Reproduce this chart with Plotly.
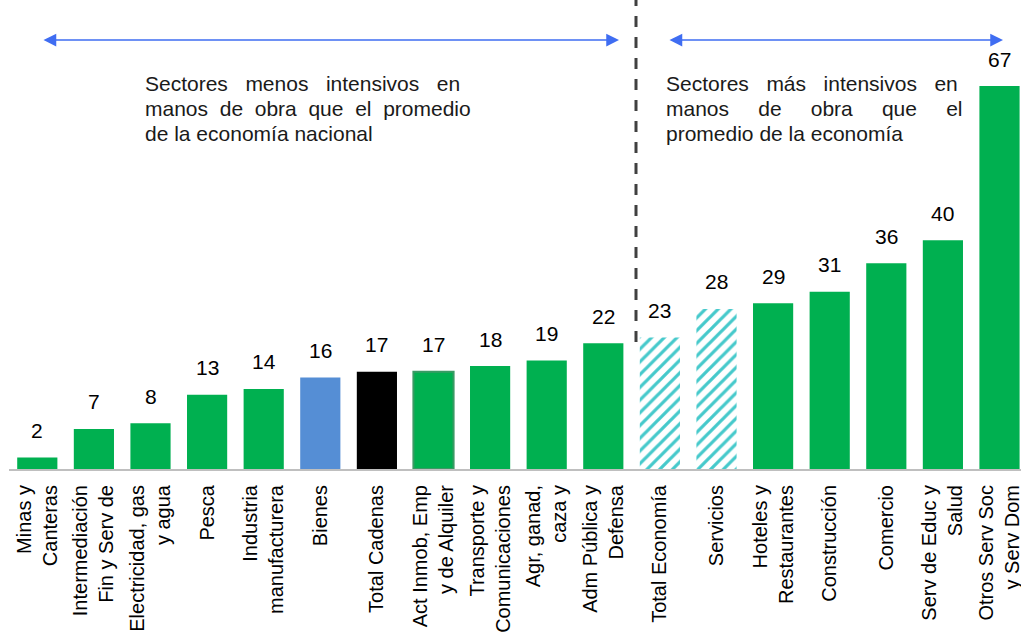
"""Labour intensity by sector: bar chart with annotated groups."""

import plotly.graph_objects as go

FONT = "Liberation Sans, Arial, sans-serif"
GREEN = "#00B050"
BLUE = "#558ED5"
TEAL = "#45C9CB"
ARROW = "#3F6DF2"

sectors = [
    "Minas y<br>Canteras",
    "Intermediación<br>Fin y Serv de",
    "Electricidad, gas<br>y agua",
    "Pesca",
    "Industria<br>manufacturera",
    "Bienes",
    "Total Cadenas",
    "Act Inmob, Emp<br>y de Alquiler",
    "Transporte y<br>Comunicaciones",
    "Agr, ganad,<br>caza y",
    "Adm Pública y<br>Defensa",
    "Total Economía",
    "Servicios",
    "Hoteles y<br>Restaurantes",
    "Construcción",
    "Comercio",
    "Serv de Educ y<br>Salud",
    "Otros Serv Soc<br>y Serv Dom",
]
values = [2, 7, 8, 13, 14, 16, 17, 17, 18, 19, 22, 23, 28, 29, 31, 36, 40, 67]
hatched = ["Total Economía", "Servicios"]

colors = [GREEN] * 5 + [BLUE, "#000000"] + [GREEN] * 11
border_w = [0] * 7 + [2] + [0] * 10

W, H = 1021, 643
L, B = 9, 174
PLOT_H = H - B
SLOT = 56.6
PX_PER_UNIT = 5.716


def px(x):
    return (x - L) / (W - L)


def py(y):
    return (PLOT_H - y) / PLOT_H


NB = "\u00a0"


def spaced(words, gaps):
    out = words[0]
    for w, g in zip(words[1:], gaps):
        out += NB * g + w
    return out


solid_y = [None if s in hatched else v for s, v in zip(sectors, values)]
hatch_y = [v if s in hatched else None for s, v in zip(sectors, values)]

fig = go.Figure()
fig.add_trace(
    go.Bar(
        x=sectors, y=solid_y, width=0.71,
        marker=dict(color=colors, line=dict(color="#3A9A64", width=border_w)),
        hoverinfo="x+y",
    )
)
fig.add_trace(
    go.Bar(
        x=sectors, y=hatch_y, width=0.71,
        marker=dict(
            color="white", line=dict(width=0),
            pattern=dict(
                shape="/", size=9, solidity=0.36, fgcolor=TEAL,
                bgcolor="white", fillmode="replace", fgopacity=1,
            ),
        ),
        hoverinfo="x+y",
    )
)

# value labels sit well above the bars
for s, v in zip(sectors, values):
    fig.add_annotation(
        x=s, y=v, text=str(v), showarrow=False,
        yanchor="middle", yshift=27,
        font=dict(family=FONT, size=21, color="#000000"),
    )

# double arrows over the two groups
for x0, x1 in [(42, 619), (668, 1003)]:
    fig.add_annotation(
        x=px(x1), y=py(40), ax=px(x0), ay=py(40),
        xref="x domain", yref="y domain", axref="x domain", ayref="y domain",
        text="", showarrow=True, arrowside="end+start",
        arrowhead=2, arrowsize=1.7, arrowwidth=1.5, arrowcolor=ARROW,
    )

# dashed separator
fig.add_shape(
    type="line", xref="paper", yref="paper",
    x0=px(636), x1=px(636), y0=py(342), y1=1,
    line=dict(color="#404040", width=3, dash="11px,10px"),
)

left_lines = [
    spaced(["Sectores", "menos", "intensivos", "en"], [3, 3, 3]),
    spaced(["manos", "de", "obra", "que", "el", "promedio"], [2, 2, 2, 2, 2]),
    "de la economía nacional",
]
right_lines = [
    spaced(["Sectores", "más", "intensivos", "en"], [3, 3, 3]),
    spaced(["manos", "de", "obra", "que", "el"], [5, 5, 5, 5]),
    "promedio de la economía",
]
for x0, lines in [(143, left_lines), (664, right_lines)]:
    for i, line in enumerate(lines):
        fig.add_annotation(
            x=px(x0), y=py(84 + 24.5 * i), xref="paper", yref="paper",
            text=line, showarrow=False, xanchor="left", yanchor="middle",
            font=dict(family=FONT, size=21, color="#1A1A1A"),
        )

n_slots = (W - L) / SLOT
fig.update_layout(
    width=W,
    height=H,
    barmode="overlay",
    margin=dict(l=L, r=0, t=0, b=B, pad=0, autoexpand=False),
    paper_bgcolor="white",
    plot_bgcolor="white",
    showlegend=False,
    xaxis=dict(
        range=[-0.5, -0.5 + n_slots],
        tickangle=-90,
        tickfont=dict(family=FONT, size=20, color="#000000"),
        showline=True, linecolor="#BFBFBF", linewidth=2,
        showgrid=False, ticks="", ticklabelstandoff=6, automargin=False,
    ),
    yaxis=dict(
        range=[0, PLOT_H / PX_PER_UNIT],
        visible=False, showgrid=False, zeroline=False, automargin=False,
    ),
)

# the page body has an 8px default margin; drop it so the figure sits at 0,0
fig.write_html(
    "out.html",
    config={"displayModeBar": False},
    post_script="document.body.style.margin = '0';",
)
